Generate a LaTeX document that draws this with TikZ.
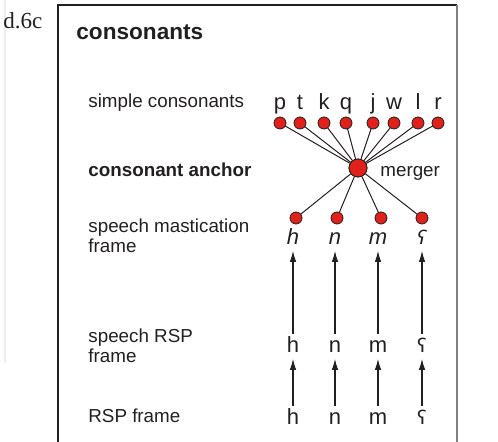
\documentclass[tikz,border=0pt]{standalone}
\usepackage{fontspec}
\setmainfont{Liberation Sans}
\newfontfamily\tagfont{Liberation Serif}
\newfontfamily\ipafont{DejaVu Sans}
\usetikzlibrary{arrows.meta}
\definecolor{dotred}{HTML}{E0201B}
\definecolor{ink}{HTML}{231F20}
\newcommand{\ayn}{{\ipafont\fontsize{9.5}{12}\selectfont ʕ}}
\tikzset{
  tier/.style={anchor=base west, inner sep=0pt, align=left, font=\fontsize{9.4}{10}\selectfont},
  seg/.style={anchor=base, inner sep=1.5pt, text height=7.8pt, text depth=1.2pt, font=\fontsize{11}{12}\selectfont},
  dot/.style={circle, draw=ink, fill=dotred, line width=0.4pt, inner sep=0pt, minimum size=6pt},
  feed/.style={-{Latex[length=5.5pt,width=3.2pt]}, line width=0.55pt},
}
\begin{document}
\begin{tikzpicture}[x=0.5pt,y=-0.5pt, ink]
	\useasboundingbox (0,0) rectangle (498,442);
	% figure tag and margin rule
	\draw[black!7, line width=1pt] (5,0) -- (5,363);
	\node[anchor=base west, inner sep=0pt, font=\tagfont\fontsize{11.5}{12}\selectfont] (tag) at (3,29) {d.6c};
	
	% frame
	\draw[line width=0.6pt] (58,442) -- (58,5) -- (457,5);
	\draw[black!50, line width=1pt] (457,5) -- (457,442);
	
	% tier labels
	\node[tier, font=\fontsize{11.3}{12}\selectfont\bfseries] (title) at (76,40) {consonants};
	\node[tier] (simple) at (88,108) {simple consonants};
	\node[tier, font=\fontsize{9.4}{10}\selectfont\bfseries] (anchor) at (88,177) {consonant anchor};
	\node[tier] (mast) at (88,253) {speech mastication\\frame};
	\node[tier] (speech) at (88,363) {speech RSP\\frame};
	\node[tier] (rsp) at (88,423) {RSP frame};
	
	% merger
	\node[dot, minimum size=9pt] (merge) at (358,168) {};
	\node[tier] (mergelab) at (380,177) {merger};
	
	% simple consonants
	\foreach \c/\x [count=\i] in {p/280,t/300,k/324,q/346,j/373,w/394,l/418,r/438}{
		\node[seg] (c\i) at (\x,110) {\c};
		\draw[line width=0.5pt] (\x,123) -- (merge);
		\node[dot] (d\i) at (\x,123) {};
	}
	
	% speech mastication frame
	\foreach \x [count=\i] in {296,337,381,422}{
		\draw[line width=0.5pt] (merge) -- (\x,218);
		\node[dot] (f\i) at (\x,218) {};
	}
	\node[dot, minimum size=9pt] at (merge) {};
	
	% segments and arrows
	\foreach \s/\x [count=\i] in {h/293,n/335,m/378,\ayn/422}{
		\node[seg, font=\fontsize{11}{12}\selectfont\itshape] (m\i) at (\x,245) {\s};
		\node[seg] (r\i) at (\x,353) {\s};
		\node[seg] (b\i) at (\x,425) {\s};
		\draw[feed] (b\i) -- (r\i);
		\draw[feed] (r\i) -- (r\i |- m\i.south);
	}
\end{tikzpicture}
\end{document}
